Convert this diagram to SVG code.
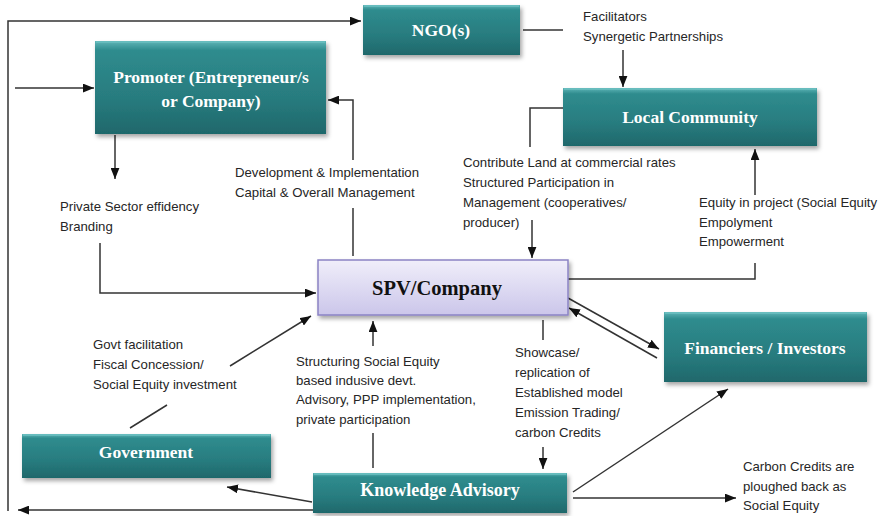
<svg xmlns="http://www.w3.org/2000/svg" width="879" height="516" viewBox="0 0 879 516">
  <style>
    .box { fill: url(#teal); filter: url(#shadow); }
    .bevel { fill: none; stroke: #6cc0c2; stroke-width: 1.5; }
    .boxtext { font-family: "Liberation Serif", "DejaVu Serif", serif; font-weight: bold; font-size: 17.5px; fill: #ffffff; text-anchor: middle; }
    .spvtext { font-family: "Liberation Serif", "DejaVu Serif", serif; font-weight: bold; font-size: 20.5px; fill: #111111; text-anchor: middle; }
    .label { font-family: "Liberation Sans", "DejaVu Sans", sans-serif; font-size: 13.2px; fill: #262626; }
    .conn { fill: none; stroke: #333333; stroke-width: 1.5; }
    .arrow { marker-end: url(#head); }
  </style>
  <defs>
    <linearGradient id="teal" x1="0" y1="0" x2="0" y2="1">
      <stop offset="0" stop-color="#5fb5b7"/>
      <stop offset="0.1" stop-color="#2f8c8e"/>
      <stop offset="0.6" stop-color="#287c7f"/>
      <stop offset="1" stop-color="#1f686b"/>
    </linearGradient>
    <linearGradient id="lavender" x1="0" y1="0" x2="0" y2="1">
      <stop offset="0" stop-color="#f0eefa"/>
      <stop offset="1" stop-color="#cbc6ea"/>
    </linearGradient>
    <filter id="shadow" x="-10%" y="-20%" width="125%" height="150%">
      <feDropShadow dx="2" dy="3" stdDeviation="2" flood-color="#000000" flood-opacity="0.35"/>
    </filter>
    <marker id="head" viewBox="0 0 10 8" refX="10" refY="4" markerWidth="11" markerHeight="9" markerUnits="userSpaceOnUse" orient="auto">
      <path d="M0,0 L10,4 L0,8 z" fill="#111111"/>
    </marker>
  </defs>

  <rect width="879" height="516" fill="#ffffff"/>

  <!-- connectors -->
  <g id="connectors">
    <path class="conn arrow" d="M8,511 V21 H361"/>
    <path class="conn arrow" d="M313,510 H18"/>
    <path class="conn arrow" d="M15,88 H94"/>
    <path class="conn arrow" d="M115,135 V179"/>
    <path class="conn arrow" d="M100,243 V293 H316"/>
    <path class="conn" d="M353,256 V208"/>
    <path class="conn arrow" d="M353,160 V100 H328"/>
    <path class="conn" d="M523,30 H563"/>
    <path class="conn arrow" d="M623,50 V87"/>
    <path class="conn" d="M563,108 H530 V147"/>
    <path class="conn arrow" d="M532,220 V258"/>
    <path class="conn" d="M568,279 H755 V263"/>
    <path class="conn arrow" d="M755,195 V149"/>
    <path class="conn arrow" d="M568,298 L659,349"/>
    <path class="conn arrow" d="M657,358 L569,308"/>
    <path class="conn" d="M130,428 L167,405"/>
    <path class="conn arrow" d="M230,366 L311,316"/>
    <path class="conn" d="M543,320 V340"/>
    <path class="conn arrow" d="M543,447 V469"/>
    <path class="conn arrow" d="M373,346 V321"/>
    <path class="conn" d="M373,433 V468"/>
    <path class="conn arrow" d="M312,502 L227,487"/>
    <path class="conn arrow" d="M573,492 L728,389"/>
    <path class="conn arrow" d="M573,498 H736"/>
  </g>

  <!-- nodes -->
  <g id="ngo">
    <rect class="box" x="363" y="5" width="157" height="50"/>
    <line class="bevel" x1="364" y1="6" x2="519" y2="6"/>
    <text class="boxtext" x="441" y="36">NGO(s)</text>
  </g>

  <g id="promoter">
    <rect class="box" x="95" y="41" width="231" height="93"/>
    <line class="bevel" x1="96" y1="42" x2="325" y2="42"/>
    <text class="boxtext" x="211" y="83">Promoter (Entrepreneur/s</text>
    <text class="boxtext" x="211" y="107">or Company)</text>
  </g>

  <g id="local-community">
    <rect class="box" x="563" y="88" width="254" height="58"/>
    <line class="bevel" x1="564" y1="89" x2="816" y2="89"/>
    <text class="boxtext" x="690" y="123">Local Community</text>
  </g>

  <g id="spv">
    <rect x="318" y="260" width="250" height="55" fill="url(#lavender)" stroke="#8a83c4" stroke-width="1.5" filter="url(#shadow)"/>
    <text class="spvtext" x="437" y="295">SPV/Company</text>
  </g>

  <g id="financiers">
    <rect class="box" x="664" y="312" width="203" height="70"/>
    <line class="bevel" x1="665" y1="313" x2="866" y2="313"/>
    <text class="boxtext" x="765" y="354">Financiers / Investors</text>
  </g>

  <g id="government">
    <rect class="box" x="22" y="434" width="249" height="44"/>
    <line class="bevel" x1="23" y1="435" x2="270" y2="435"/>
    <text class="boxtext" x="146" y="458">Government</text>
  </g>

  <g id="knowledge-advisory">
    <rect class="box" x="313" y="473" width="254" height="40"/>
    <line class="bevel" x1="314" y1="474" x2="566" y2="474"/>
    <text class="boxtext" x="440" y="496" style="font-size:18px">Knowledge Advisory</text>
  </g>

  <!-- connector labels -->
  <g id="labels">
    <text class="label" x="583" y="21">Facilitators</text>
    <text class="label" x="583" y="41">Synergetic Partnerships</text>

    <text class="label" x="235" y="177">Development &amp; Implementation</text>
    <text class="label" x="235" y="197">Capital &amp; Overall Management</text>

    <text class="label" x="60" y="211">Private Sector effidency</text>
    <text class="label" x="60" y="231">Branding</text>

    <text class="label" x="463" y="167">Contribute Land at commercial rates</text>
    <text class="label" x="463" y="187">Structured Participation in</text>
    <text class="label" x="463" y="207">Management (cooperatives/</text>
    <text class="label" x="463" y="227">producer)</text>

    <text class="label" x="699" y="207">Equity in project (Social Equity</text>
    <text class="label" x="699" y="227">Empolyment</text>
    <text class="label" x="699" y="246">Empowerment</text>

    <text class="label" x="93" y="349">Govt facilitation</text>
    <text class="label" x="93" y="369">Fiscal Concession/</text>
    <text class="label" x="93" y="389">Social Equity investment</text>

    <text class="label" x="296" y="366">Structuring Social Equity</text>
    <text class="label" x="296" y="385">based indusive devt.</text>
    <text class="label" x="296" y="404">Advisory, PPP implementation,</text>
    <text class="label" x="296" y="424">private participation</text>

    <text class="label" x="515" y="357">Showcase/</text>
    <text class="label" x="515" y="377">replication of</text>
    <text class="label" x="515" y="397">Established model</text>
    <text class="label" x="515" y="417">Emission Trading/</text>
    <text class="label" x="515" y="437">carbon Credits</text>

    <text class="label" x="743" y="471">Carbon Credits are</text>
    <text class="label" x="743" y="491">ploughed back as</text>
    <text class="label" x="743" y="510">Social Equity</text>
  </g>
</svg>
